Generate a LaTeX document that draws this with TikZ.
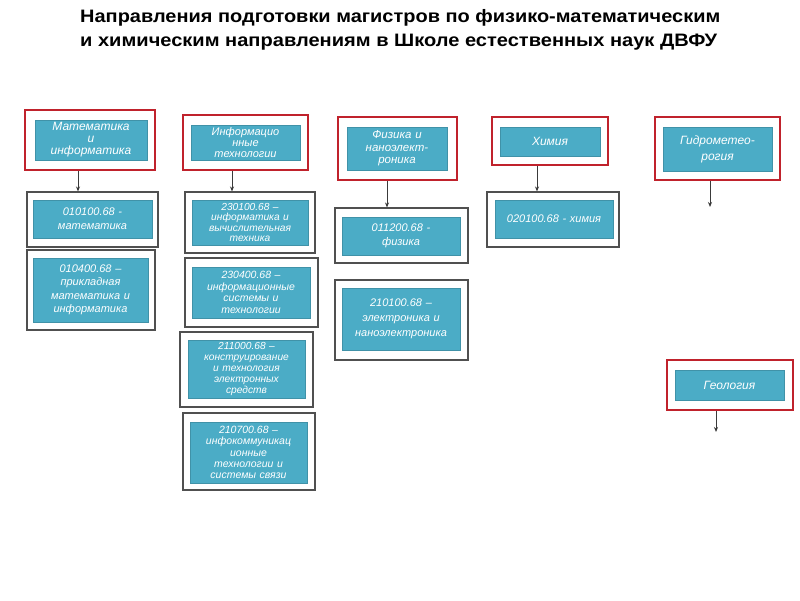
\documentclass[tikz,border=0pt]{standalone}
\usepackage{fontspec}
\setmainfont{Liberation Sans}
\usepackage{graphicx}
\usetikzlibrary{arrows.meta}
\definecolor{teal1}{HTML}{4BACC6}
\definecolor{red1}{HTML}{C0222C}
\definecolor{gray1}{HTML}{505050}
\definecolor{arrc}{HTML}{3A3A3A}
\tikzset{
  redbox/.style={draw=red1, line width=2.6pt, fill=white, inner sep=0pt},
  itembox/.style={draw=gray1, line width=1.1pt, fill=white, inner sep=0pt},
  tealbox/.style={fill=teal1, draw=teal1!85!black, line width=0.3pt, inner sep=1pt, text=white, align=center},
  headtxt/.style={font=\fontsize{12}{12}\selectfont\itshape},
  itemtxt/.style={font=\fontsize{11}{12}\selectfont\itshape},
  arr/.style={draw=arrc, line width=0.9pt, -{Stealth[length=5pt,width=4pt]}},
}
\begin{document}
\begin{tikzpicture}[x=1pt,y=-1pt]
\useasboundingbox (0,0) rectangle (800,600);
\fill[white] (0,0) rectangle (800,600);
% title
\node[anchor=base west, inner sep=0pt] (t1) at (80,22.7) {\resizebox{640pt}{\height}{\fontsize{18}{18}\selectfont\bfseries Направления подготовки магистров по физико-математическим}};
\node[anchor=base west, inner sep=0pt] (t2) at (80,46.7) {\resizebox{637pt}{\height}{\fontsize{18}{18}\selectfont\bfseries и химическим направлениям в Школе естественных наук ДВФУ}};

% column 1
\node[redbox, minimum width=130, minimum height=60] (h1) at (90,140) {};
\node[tealbox, minimum width=112, minimum height=40, text width=108, font=\fontsize{12}{12}\selectfont\itshape] (h1t) at (91,140) {Математика\\и\\информатика};
\node[itembox, minimum width=131, minimum height=55] (i11) at (92.5,219.5) {};
\node[tealbox, itemtxt, minimum width=119, minimum height=38, text width=115, font=\fontsize{11}{14}\selectfont\itshape] (i11t) at (92.5,219) {010100.68 -\\математика};
\node[itembox, minimum width=128, minimum height=80] (i12) at (91,290) {};
\node[tealbox, itemtxt, minimum width=115, minimum height=64, text width=111, font=\fontsize{11}{13.5}\selectfont\itshape] (i12t) at (90.5,290) {010400.68 –\\прикладная\\математика и\\информатика};
\draw[arr] ([xshift=-12pt]h1.south) -- ([xshift=-12pt]h1.south |- i11.north);

% column 2
\node[redbox, minimum width=125, minimum height=55] (h2) at (245.5,142.5) {};
\node[tealbox, minimum width=109, minimum height=35, text width=105, font=\fontsize{11}{10.8}\selectfont\itshape] (h2t) at (245.5,142.5) {Информацио\\нные\\технологии};
\node[itembox, minimum width=130, minimum height=61] (i21) at (250,222.5) {};
\node[tealbox, minimum width=116, minimum height=45, text width=112, font=\fontsize{10.2}{10.5}\selectfont\itshape] (i21t) at (250,222.5) {230100.68 –\\информатика и\\вычислительная\\техника};
\node[itembox, minimum width=133, minimum height=69] (i22) at (251.5,292.5) {};
\node[tealbox, minimum width=118, minimum height=51, text width=114, font=\fontsize{10.5}{11.5}\selectfont\itshape] (i22t) at (251,292.5) {230400.68 –\\информационные\\системы и\\технологии};
\node[itembox, minimum width=133, minimum height=75] (i23) at (246.5,369.5) {};
\node[tealbox, minimum width=117, minimum height=58, text width=113, font=\fontsize{10.2}{10.8}\selectfont\itshape] (i23t) at (246.5,369) {211000.68 –\\конструирование\\и технология\\электронных\\средств};
\node[itembox, minimum width=132, minimum height=77] (i24) at (249,451.5) {};
\node[tealbox, minimum width=117, minimum height=61, text width=113, font=\fontsize{10.5}{11.3}\selectfont\itshape] (i24t) at (248.5,452.5) {210700.68 –\\инфокоммуникац\\ионные\\технологии и\\системы связи};
\draw[arr] ([xshift=-13.5pt]h2.south) -- ([xshift=-13.5pt]h2.south |- i21.north);

% column 3
\node[redbox, minimum width=119, minimum height=63] (h3) at (397.5,148.5) {};
\node[tealbox, minimum width=100, minimum height=43, text width=96, font=\fontsize{11.5}{12.3}\selectfont\itshape] (h3t) at (397,148.5) {Физика и\\наноэлект-\\роника};
\node[itembox, minimum width=133, minimum height=55] (i31) at (401.5,235.5) {};
\node[tealbox, itemtxt, minimum width=118, minimum height=38, text width=114, font=\fontsize{11}{14}\selectfont\itshape] (i31t) at (401,236) {011200.68 -\\физика};
\node[itembox, minimum width=133, minimum height=80] (i32) at (401.5,320) {};
\node[tealbox, itemtxt, minimum width=118, minimum height=62, text width=114, font=\fontsize{11}{15}\selectfont\itshape] (i32t) at (401,319) {210100.68 –\\электроника и\\наноэлектроника};
\draw[arr] ([xshift=-10.5pt]h3.south) -- ([xshift=-10.5pt]h3.south |- i31.north);

% column 4
\node[redbox, minimum width=116, minimum height=48] (h4) at (550,141) {};
\node[tealbox, headtxt, minimum width=100, minimum height=29, text width=96] (h4t) at (550,141.5) {Химия};
\node[itembox, minimum width=132, minimum height=55] (i41) at (553,219.5) {};
\node[tealbox, itemtxt, minimum width=118, minimum height=38, text width=114] (i41t) at (554,219) {020100.68 - химия};
\draw[arr] ([xshift=-13pt]h4.south) -- ([xshift=-13pt]h4.south |- i41.north);

% column 5
\node[redbox, minimum width=125, minimum height=63] (h5) at (717.5,148.5) {};
\node[tealbox, minimum width=109, minimum height=44, text width=105, font=\fontsize{12}{16}\selectfont\itshape] (h5t) at (717.5,149) {Гидрометео-\\рогия};
\coordinate (e5) at (710,207);
\draw[arr] (h5.south -| e5) -- (e5);

\node[redbox, minimum width=126, minimum height=50] (h6) at (730,385) {};
\node[tealbox, headtxt, minimum width=109, minimum height=30, text width=105] (h6t) at (729.5,385) {Геология};
\coordinate (e6) at (716,432);
\draw[arr] (h6.south -| e6) -- (e6);
\end{tikzpicture}
\end{document}
